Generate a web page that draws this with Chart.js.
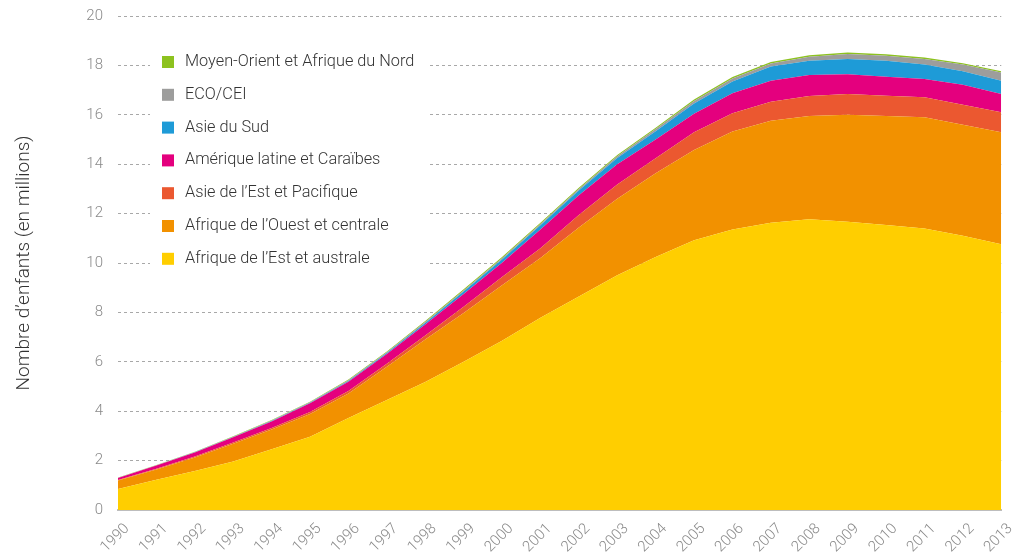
<!DOCTYPE html>
<html>
<head>
<meta charset="utf-8">
<style>
  html, body { margin: 0; padding: 0; background: #fff; }
  #wrap { width: 1016px; height: 558px; }
</style>
<script src="https://cdn.jsdelivr.net/npm/chart.js@4.4.1/dist/chart.umd.min.js"></script>
</head>
<body>
<div id="wrap"><canvas id="orphans" width="1016" height="558"></canvas></div>
<script>
// years on the x axis
var years = ['1990', '1991', '1992', '1993', '1994', '1995', '1996', '1997', '1998', '1999', '2000', '2001',
             '2002', '2003', '2004', '2005', '2006', '2007', '2008', '2009', '2010', '2011', '2012', '2013'];

// children per region, millions (stacked bottom to top)
var afriqueEst = [0.85, 1.22, 1.58, 1.96, 2.46, 2.97, 3.72, 4.45, 5.18, 6.0, 6.85, 7.78,
                  8.64, 9.5, 10.24, 10.92, 11.36, 11.63, 11.77, 11.67, 11.54, 11.4, 11.1, 10.76];
var afriqueOuest = [0.34, 0.42, 0.55, 0.72, 0.8, 0.92, 1.0, 1.35, 1.72, 1.98, 2.25, 2.42,
                    2.8, 3.1, 3.39, 3.65, 3.96, 4.13, 4.18, 4.33, 4.41, 4.5, 4.5, 4.53];
var asieEst = [0.02, 0.03, 0.04, 0.05, 0.06, 0.08, 0.1, 0.12, 0.16, 0.25, 0.33, 0.4,
               0.5, 0.58, 0.61, 0.72, 0.74, 0.77, 0.81, 0.84, 0.82, 0.81, 0.81, 0.81];
var ameriqueLatine = [0.09, 0.13, 0.16, 0.22, 0.26, 0.35, 0.37, 0.4, 0.45, 0.52, 0.58, 0.76,
                      0.8, 0.82, 0.76, 0.75, 0.81, 0.85, 0.85, 0.8, 0.77, 0.74, 0.81, 0.74];
var asieSud = [0.0, 0.0, 0.01, 0.01, 0.02, 0.02, 0.03, 0.04, 0.06, 0.1, 0.13, 0.17,
               0.2, 0.25, 0.33, 0.42, 0.48, 0.58, 0.58, 0.62, 0.65, 0.59, 0.54, 0.54];
var ecoCei = [0.01, 0.01, 0.01, 0.01, 0.02, 0.02, 0.03, 0.03, 0.04, 0.04, 0.05, 0.05,
              0.06, 0.07, 0.1, 0.1, 0.12, 0.12, 0.16, 0.2, 0.2, 0.22, 0.28, 0.33];
var moyenOrient = [0.01, 0.01, 0.01, 0.02, 0.02, 0.02, 0.03, 0.03, 0.04, 0.05, 0.05, 0.05,
                   0.05, 0.05, 0.05, 0.06, 0.06, 0.06, 0.06, 0.06, 0.06, 0.06, 0.05, 0.05];

var yTicks = [0, 2, 4, 6, 8, 10, 12, 14, 16, 18, 20];

var regions = [
  { label: 'Afrique de l\u2019Est et australe', data: afriqueEst, color: '#FFCE00' },
  { label: 'Afrique de l\u2019Ouest et centrale', data: afriqueOuest, color: '#F29100' },
  { label: 'Asie de l\u2019Est et Pacifique', data: asieEst, color: '#EB5830' },
  { label: 'Am\u00e9rique latine et Cara\u00efbes', data: ameriqueLatine, color: '#E4007E' },
  { label: 'Asie du Sud', data: asieSud, color: '#1E9BD7' },
  { label: 'ECO/CEI', data: ecoCei, color: '#9D9D9C' },
  { label: 'Moyen-Orient et Afrique du Nord', data: moyenOrient, color: '#8DC21F' }
];

var fontFamily = "'Roboto', 'Liberation Sans', sans-serif";

// legend drawn inside the plot, on a white box that hides the grid behind it
var insideLegend = {
  id: 'insideLegend',
  afterDraw: function(chart) {
    var ctx = chart.ctx;
    var area = chart.chartArea;
    var x0 = area.left + 32;
    var y0 = area.top + 30;
    ctx.save();
    ctx.fillStyle = '#ffffff';
    ctx.fillRect(x0, y0, 278, 232);
    ctx.font = '300 16.3px ' + fontFamily;
    ctx.textBaseline = 'middle';
    ctx.textAlign = 'left';
    var items = regions.slice().reverse();
    for (var i = 0; i < items.length; i++) {
      var cy = area.top + 46 + i * 32.8;
      ctx.fillStyle = items[i].color;
      ctx.fillRect(area.left + 44, cy - 6, 12, 12);
      ctx.fillStyle = '#333333';
      ctx.fillText(items[i].label, area.left + 67, cy);
    }
    ctx.restore();
  }
};

var datasets = [];
for (var i = 0; i < regions.length; i++) {
  datasets.push({
    label: regions[i].label,
    data: regions[i].data,
    backgroundColor: regions[i].color,
    borderColor: regions[i].color,
    borderWidth: 0,
    pointRadius: 0,
    tension: 0,
    fill: i == 0 ? 'origin' : '-1'
  });
}

var ctx1 = document.getElementById('orphans');
var orphansChart = new Chart(ctx1, {
  type: 'line',
  data: { labels: years, datasets: datasets },
  options: {
    responsive: false,
    animation: false,
    layout: { padding: { top: 16, right: 10, left: 5, bottom: 0 } },
    plugins: {
      legend: { display: false },
      tooltip: { enabled: false }
    },
    scales: {
      x: {
        offset: false,
        grid: { display: false },
        border: { display: true, color: '#bdbdbd', width: 2 },
        ticks: {
          color: '#8a8a8a',
          font: { family: fontFamily, size: 15, weight: '300' },
          minRotation: 45,
          maxRotation: 45,
          autoSkip: false,
          padding: 2,
          labelOffset: 9
        },
        afterFit: function(scale) { scale.height = 48; }
      },
      y: {
        stacked: true,
        min: 0,
        max: 20,
        afterBuildTicks: function(scale) {
          scale.ticks = yTicks.map(function(v) { return { value: v }; });
        },
        grid: {
          color: '#a8a8a8',
          lineWidth: 1,
          drawTicks: true,
          tickLength: 15,
          tickColor: 'rgba(0,0,0,0)'
        },
        border: { display: true, width: 0, dash: [3, 3] },
        ticks: {
          color: '#8a8a8a',
          font: { family: fontFamily, size: 15, weight: '300' },
          padding: 0
        },
        title: {
          display: true,
          text: 'Nombre d\u2019enfants (en millions)',
          color: '#333333',
          font: { family: fontFamily, size: 19, weight: '300' },
          padding: { top: 8, bottom: 0 }
        },
        afterFit: function(scale) { scale.width = 113; }
      }
    }
  },
  plugins: [insideLegend]
});
</script>
</body>
</html>
